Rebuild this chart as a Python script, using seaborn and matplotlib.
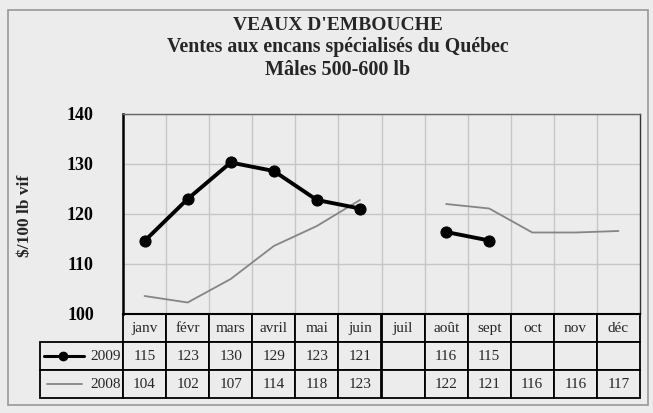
import numpy as np
import pandas as pd
import matplotlib.pyplot as plt
import seaborn as sns
from matplotlib.patches import Rectangle

months = ['janv', 'févr', 'mars', 'avril', 'mai', 'juin', 'juil', 'août', 'sept', 'oct', 'nov', 'déc']
# values; the table shows them rounded
v2009 = [114.6, 123.0, 130.3, 128.6, 122.8, 121.1, np.nan, 116.4, 114.7, np.nan, np.nan, np.nan]
v2008 = [103.6, 102.3, 107.0, 113.6, 117.6, 122.8, np.nan, 122.0, 121.1, 116.3, 116.3, 116.6]
yticks = [100, 110, 120, 130, 140]

W, H = 653, 413
BG = '#ececec'

sns.set_theme(style="white")
plt.rcParams['font.family'] = ['Liberation Serif', 'DejaVu Serif']

fig = plt.figure(figsize=(W / 100, H / 100), dpi=100, facecolor=BG)
ax = fig.add_axes([123 / W, 1 - 314 / H, 517 / W, 200 / H])
ax.set_facecolor(BG)

df = pd.DataFrame({'mois': np.arange(len(months)), '2009': v2009, '2008': v2008})


def segments(col):
    s = df[['mois', col]].dropna()
    grp = (s['mois'].diff() != 1).cumsum()
    return [g for _, g in s.groupby(grp)]


for seg in segments('2008'):
    sns.lineplot(data=seg, x='mois', y='2008', ax=ax, color='#858585', lw=1.3)
for seg in segments('2009'):
    sns.lineplot(data=seg, x='mois', y='2009', ax=ax, color='black', lw=2.8,
                 marker='o', markersize=8, markeredgecolor='black')

ax.set_xlim(-0.5, len(months) - 0.5)
ax.set_ylim(100, 140)
ax.set_xticks(np.arange(len(months) - 1) + 0.5)
ax.set_xticklabels([])
ax.set_yticks(yticks)
ax.set_yticklabels([str(t) for t in yticks], fontweight='bold', fontsize=13)
ax.tick_params(axis='x', length=0)
ax.tick_params(axis='y', direction='out', length=6, width=1.3, pad=15, colors='black')
ax.grid(True, color='#c6c6c6', lw=1)
ax.set_xlabel('')
ax.set_ylabel('')
for side, c, w in [('left', 'black', 1.8), ('bottom', 'black', 1.5),
                   ('top', '#666666', 1.0), ('right', '#333333', 1.0)]:
    ax.spines[side].set_color(c)
    ax.spines[side].set_linewidth(w)


def fmt(v):
    return '' if np.isnan(v) else str(int(v + 0.5))


cell_text = [[''] + months,
             ['2009'] + [fmt(v) for v in v2009],
             ['2008'] + [fmt(v) for v in v2008]]
col_w = [83] + [517 / 12] * 12
tab = ax.table(cellText=cell_text, colWidths=[w / sum(col_w) for w in col_w],
               bbox=[-83 / 517, -84 / 200, 600 / 517, 84 / 200], cellLoc='center')
tab.auto_set_font_size(False)
tab.set_fontsize(11)
for (r, c), cell in tab.get_celld().items():
    cell.set_facecolor(BG)
    cell.set_edgecolor('black')
    cell.set_linewidth(1.3)
    if r == 0 and c == 0:
        cell.visible_edges = 'open'
    elif c == 0:
        cell.get_text().set_horizontalalignment('right')
        cell.PAD = 0.03

# legend samples inside the table
ax.plot([(44 - 123) / 517, (84 - 123) / 517], [-42 / 200] * 2, color='black', lw=2.2,
        transform=ax.transAxes, clip_on=False)
ax.plot([(63 - 123) / 517], [-42 / 200], 'o', color='black', markersize=6,
        transform=ax.transAxes, clip_on=False)
ax.plot([(47 - 123) / 517, (82 - 123) / 517], [-70 / 200] * 2, color='#858585', lw=1.3,
        transform=ax.transAxes, clip_on=False)

fig.text(338 / W, 1 - 25 / H, "VEAUX D'EMBOUCHE", ha='center', va='center',
         fontsize=14, fontweight='bold')
fig.text(338 / W, 1 - 47 / H, "Ventes aux encans spécialisés du Québec", ha='center',
         va='center', fontsize=14.3, fontweight='bold')
fig.text(338 / W, 1 - 70 / H, "Mâles 500-600 lb", ha='center', va='center',
         fontsize=14.5, fontweight='bold')
fig.text(25 / W, 1 - 216 / H, "$/100 lb vif", ha='center', va='center', rotation=90,
         fontsize=12.5, fontweight='bold')

fig.patches.append(Rectangle((8 / W, 8 / H), 640 / W, 395 / H, transform=fig.transFigure,
                             fill=False, edgecolor='#999999', lw=1.2))

fig.savefig('out.png', dpi=100, facecolor=BG)
